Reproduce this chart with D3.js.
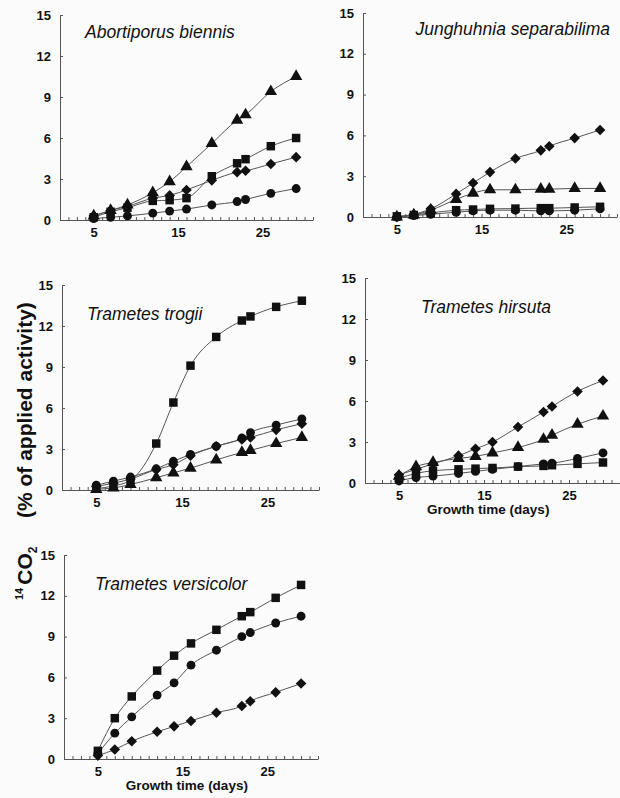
<!DOCTYPE html>
<html lang="en">
    <head>
        <meta charset="utf-8">
        <title>14CO2 evolution</title>
        <style>
            body {
                margin: 0;
                background: #fbfbfb;
            }
            svg text {
                font-family: "Liberation Sans", Arial, sans-serif;
                fill: #111;
            }
        </style>
    </head>
    <body>
        <svg id="chart" width="620" height="798"></svg>
        <script src="https://d3js.org/d3.v7.min.js"></script>
        <script>
            // sampling days (same for every fungus)
            const days = [5, 7, 9, 12, 14, 16, 19, 22, 23, 26, 29];
            const yTicks = [0, 3, 6, 9, 12, 15];
            const xLabels = [5, 15, 25];

            // Abortiporus biennis
            const abortTriangle = [0.3, 0.7, 1.1, 2.0, 2.8, 3.9, 5.6, 7.3, 7.7, 9.4, 10.5];
            const abortSquare   = [0.2, 0.6, 0.9, 1.4, 1.45, 1.6, 3.2, 4.15, 4.45, 5.4, 6.0];
            const abortDiamond  = [0.3, 0.7, 1.0, 1.6, 1.8, 2.2, 2.9, 3.5, 3.6, 4.1, 4.6];
            const abortCircle   = [0.1, 0.2, 0.3, 0.5, 0.65, 0.8, 1.1, 1.35, 1.5, 1.95, 2.3];

            // Junghuhnia separabilima
            const jungDiamond  = [0.0, 0.2, 0.6, 1.7, 2.5, 3.3, 4.3, 4.9, 5.2, 5.8, 6.4];
            const jungTriangle = [0.0, 0.15, 0.5, 1.3, 1.75, 2.0, 2.0, 2.05, 2.05, 2.1, 2.1];
            const jungSquare   = [0.05, 0.15, 0.3, 0.5, 0.55, 0.6, 0.62, 0.65, 0.65, 0.7, 0.75];
            const jungCircle   = [0.0, 0.1, 0.2, 0.35, 0.45, 0.5, 0.5, 0.45, 0.45, 0.5, 0.6];

            // Trametes trogii
            const trogiiSquare   = [0.1, 0.3, 0.7, 3.4, 6.4, 9.1, 11.2, 12.4, 12.7, 13.4, 13.85];
            const trogiiCircle   = [0.35, 0.65, 0.95, 1.55, 2.1, 2.6, 3.2, 3.8, 4.2, 4.75, 5.2];
            const trogiiDiamond  = [0.25, 0.5, 0.8, 1.5, 1.85, 2.5, 3.2, 3.7, 3.85, 4.4, 4.85];
            const trogiiTriangle = [0.05, 0.15, 0.4, 0.9, 1.25, 1.6, 2.2, 2.75, 2.9, 3.4, 3.85];

            // Trametes hirsuta
            const hirsutaDiamond  = [0.6, 1.0, 1.4, 2.0, 2.5, 3.0, 4.1, 5.2, 5.6, 6.7, 7.5];
            const hirsutaTriangle = [0.5, 1.2, 1.5, 1.8, 1.95, 2.2, 2.6, 3.2, 3.5, 4.3, 4.9];
            const hirsutaCircle   = [0.15, 0.4, 0.5, 0.7, 0.85, 1.0, 1.2, 1.4, 1.45, 1.8, 2.2];
            const hirsutaSquare   = [0.35, 0.7, 0.9, 1.0, 1.05, 1.1, 1.2, 1.25, 1.3, 1.4, 1.5];

            // Trametes versicolor
            const versiSquare  = [0.6, 3.0, 4.6, 6.5, 7.6, 8.5, 9.5, 10.5, 10.8, 11.85, 12.8];
            const versiCircle  = [0.4, 1.9, 3.1, 4.7, 5.6, 6.9, 8.0, 9.0, 9.3, 10.0, 10.5];
            const versiDiamond = [0.25, 0.7, 1.3, 2.0, 2.4, 2.8, 3.4, 3.9, 4.25, 4.9, 5.55];

            const symbols = {
                triangle: d3.symbol(d3.symbolTriangle, 66),
                square: d3.symbol(d3.symbolSquare, 72),
                diamond: d3.symbol(d3.symbolSquare, 56),
                circle: d3.symbol(d3.symbolCircle, 62)
            };

            // panel boxes (scanned page, so each one is a bit different)
            const panels = [
                { title: "Abortiporus biennis", x0: 60, x1: 313, y0: 220, y1: 15,
                  tx: 85, ty: 38, anchor: "start", xlabel: false,
                  series: [["triangle", abortTriangle], ["square", abortSquare], ["diamond", abortDiamond], ["circle", abortCircle]] },
                { title: "Junghuhnia separabilima", x0: 363, x1: 617, y0: 217, y1: 13,
                  tx: 610, ty: 35, anchor: "end", xlabel: false,
                  series: [["diamond", jungDiamond], ["triangle", jungTriangle], ["square", jungSquare], ["circle", jungCircle]] },
                { title: "Trametes trogii", x0: 62, x1: 319, y0: 490, y1: 285,
                  tx: 87, ty: 320, anchor: "start", xlabel: false,
                  series: [["square", trogiiSquare], ["circle", trogiiCircle], ["diamond", trogiiDiamond], ["triangle", trogiiTriangle]] },
                { title: "Trametes hirsuta", x0: 365, x1: 620, y0: 483, y1: 278,
                  tx: 421, ty: 313, anchor: "start", xlabel: true,
                  series: [["diamond", hirsutaDiamond], ["triangle", hirsutaTriangle], ["circle", hirsutaCircle], ["square", hirsutaSquare]] },
                { title: "Trametes versicolor", x0: 64, x1: 318, y0: 759, y1: 555,
                  tx: 95, ty: 590, anchor: "start", xlabel: true,
                  series: [["square", versiSquare], ["circle", versiCircle], ["diamond", versiDiamond]] }
            ];

            const svg = d3.select("#chart");
            const allDays = d3.range(1, 32);

            panels.forEach(p => {
                const x = d3.scaleLinear().domain([1, 31]).range([p.x0, p.x1]);
                const y = d3.scaleLinear().domain([0, 15]).range([p.y0, p.y1]);
                const g = svg.append("g");

                g.append("g")
                    .attr("transform", "translate(0," + p.y0 + ")")
                    .call(d3.axisBottom(x)
                        .tickValues(allDays)
                        .tickSizeInner(-3)
                        .tickSizeOuter(0)
                        .tickPadding(8)
                        .tickFormat(d => xLabels.includes(d) ? d : ""));

                g.append("g")
                    .attr("transform", "translate(" + p.x0 + ",0)")
                    .call(d3.axisLeft(y)
                        .tickValues(yTicks)
                        .tickSizeInner(-3)
                        .tickSizeOuter(0)
                        .tickPadding(9));

                g.selectAll(".domain, .tick line").attr("stroke", "#555");
                g.selectAll(".tick text")
                    .attr("font-size", 13)
                    .attr("font-weight", "bold")
                    .attr("fill", "#111");

                g.append("text")
                    .attr("x", p.tx)
                    .attr("y", p.ty)
                    .attr("text-anchor", p.anchor)
                    .attr("font-size", 17.5)
                    .attr("font-style", "italic")
                    .text(p.title);

                if (p.xlabel) {
                    g.append("text")
                        .attr("x", x(15.5))
                        .attr("y", p.y0 + 31)
                        .attr("text-anchor", "middle")
                        .attr("font-size", 13.5)
                        .attr("font-weight", "bold")
                        .text("Growth time (days)");
                }

                const line = d3.line()
                    .x((d, i) => x(days[i]))
                    .y(d => y(d))
                    .curve(d3.curveMonotoneX);

                p.series.forEach(([shape, values]) => {
                    g.append("path")
                        .attr("d", line(values))
                        .attr("fill", "none")
                        .attr("stroke", "#555")
                        .attr("stroke-width", 1);
                });

                p.series.forEach(([shape, values]) => {
                    g.selectAll(null)
                        .data(values)
                        .join("path")
                        .attr("d", symbols[shape])
                        .attr("transform", (d, i) => "translate(" + x(days[i]) + "," + y(d) + ")" + (shape === "diamond" ? " rotate(45)" : ""))
                        .attr("fill", "#111");
                });
            });

            // shared y axis title
            const ylab = svg.append("g");
            ylab.append("text")
                .attr("transform", "translate(32,600) rotate(-90)")
                .attr("font-weight", "bold")
                .attr("font-size", 21)
                .call(t => {
                    t.append("tspan").attr("font-size", 11).attr("dy", -9).text("14");
                    t.append("tspan").attr("dy", 9).attr("dx", 3).text("CO");
                    t.append("tspan").attr("font-size", 12).attr("dy", 5).text("2");
                });
            ylab.append("text")
                .attr("transform", "translate(32,518) rotate(-90)")
                .attr("font-weight", "bold")
                .attr("font-size", 21)
                .text("(% of applied activity)");
        </script>
    </body>
</html>
